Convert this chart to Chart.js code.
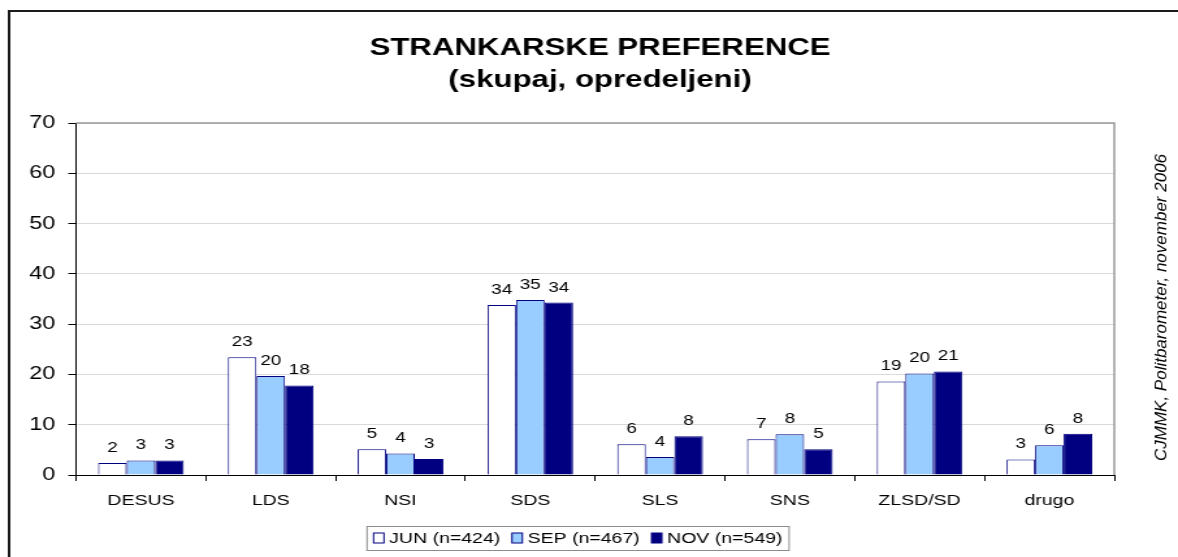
<!DOCTYPE html>
<html>
<head>
<meta charset="utf-8">
<script src="https://cdn.jsdelivr.net/npm/chart.js@4"></script>
<style>
  body { margin: 0; background: #fff; }
</style>
</head>
<body>
<!-- drawn narrow and stretched sideways, like the original pasted chart -->
<canvas id="chart" width="906" height="557" style="display:block;width:1178px;height:557px"></canvas>
<script>
const categories = ['DESUS', 'LDS', 'NSI', 'SDS', 'SLS', 'SNS', 'ZLSD/SD', 'drugo'];
const seriesLabels = ['JUN (n=424)', 'SEP (n=467)', 'NOV (n=549)'];
const junValues = [2.4, 23.4, 5.1, 33.8, 6.1, 7.1, 18.6, 3.1];
const sepValues = [2.9, 19.7, 4.3, 34.8, 3.6, 8.1, 20.2, 5.9];
const novValues = [2.9, 17.8, 3.2, 34.3, 7.7, 5.1, 20.6, 8.2];
const yTicks = [0, 10, 20, 30, 40, 50, 60, 70];

const titleLines = ['STRANKARSKE PREFERENCE', '(skupaj, opredeljeni)'];
const sourceNote = 'CJMMK, Politbarometer, november 2006';

const FONT = '"Liberation Sans", Arial, sans-serif';
const NAVY = '#000080';

// title, outer frame, plot frame, labels, legend and side note
const extras = {
    id: 'extras',
    beforeDatasetsDraw(chart) {
        const { ctx, chartArea: a } = chart;
        ctx.save();
        ctx.strokeStyle = '#9a9a9a';
        ctx.lineWidth = 1.5;
        ctx.beginPath();
        ctx.moveTo(a.left, a.top);
        ctx.lineTo(a.right, a.top);
        ctx.lineTo(a.right, a.bottom);
        ctx.stroke();
        ctx.restore();
    },
    afterDatasetsDraw(chart) {
        const { ctx } = chart;
        ctx.save();
        ctx.font = '14.5px ' + FONT;
        ctx.fillStyle = '#000';
        ctx.textAlign = 'center';
        ctx.textBaseline = 'alphabetic';
        chart.data.datasets.forEach((ds, i) => {
            chart.getDatasetMeta(i).data.forEach((bar, j) => {
                ctx.fillText(String(Math.round(ds.data[j])), bar.x, bar.y - 11);
            });
        });
        ctx.restore();
    },
    afterDraw(chart) {
        const { ctx } = chart;
        ctx.save();

        // outer frame (only left and top edges are in the picture)
        ctx.strokeStyle = '#1a1a1a';
        ctx.lineWidth = 2;
        ctx.beginPath();
        ctx.moveTo(7, 560);
        ctx.lineTo(7, 11);
        ctx.lineTo(910, 11);
        ctx.stroke();

        // title
        ctx.fillStyle = '#000';
        ctx.font = 'bold 24px ' + FONT;
        ctx.textAlign = 'center';
        ctx.textBaseline = 'alphabetic';
        ctx.fillText(titleLines[0], 461.5, 55);
        ctx.fillText(titleLines[1], 461.5, 87);

        // source note on the right
        ctx.save();
        ctx.translate(893.5, 307.5);
        ctx.rotate(-Math.PI / 2);
        ctx.scale(1, 0.74);
        ctx.font = 'italic 17px ' + FONT;
        ctx.textAlign = 'center';
        ctx.textBaseline = 'middle';
        ctx.fillText(sourceNote, 0, 0);
        ctx.restore();

        // legend
        const boxL = 282.3, boxR = 606.9, boxT = 526, boxB = 550;
        const cy = (boxT + boxB) / 2;
        ctx.strokeStyle = '#8c8c8c';
        ctx.lineWidth = 1;
        ctx.strokeRect(boxL, boxT + 0.5, boxR - boxL, boxB - boxT);
        ctx.font = '15px ' + FONT;
        ctx.textAlign = 'left';
        ctx.textBaseline = 'middle';
        let x = boxL + 5;
        chart.data.datasets.forEach(ds => {
            ctx.fillStyle = ds.backgroundColor;
            ctx.fillRect(x, cy - 5, 8, 10);
            ctx.strokeStyle = ds.borderColor;
            ctx.strokeRect(x, cy - 5, 8, 10);
            ctx.fillStyle = '#000';
            ctx.fillText(ds.label, x + 12, cy + 1);
            x += 12 + ctx.measureText(ds.label).width + 9;
        });

        ctx.restore();
    }
};

const canvas = document.getElementById('chart');
new Chart(canvas, {
    type: 'bar',
    data: {
        labels: categories,
        datasets: [{
            label: seriesLabels[0],
            data: junValues,
            backgroundColor: '#ffffff',
            borderColor: NAVY,
            borderWidth: 1
        }, {
            label: seriesLabels[1],
            data: sepValues,
            backgroundColor: '#99ccff',
            borderColor: NAVY,
            borderWidth: 1
        }, {
            label: seriesLabels[2],
            data: novValues,
            backgroundColor: NAVY,
            borderColor: NAVY,
            borderWidth: 1
        }]
    },
    options: {
        responsive: false,
        devicePixelRatio: 1,
        animation: false,
        categoryPercentage: 0.66,
        barPercentage: 1,
        layout: {
            padding: { left: 0, top: 123, right: 49, bottom: 42 }
        },
        plugins: {
            legend: { display: false },
            title: { display: false },
            tooltip: { enabled: false }
        },
        scales: {
            x: {
                grid: {
                    offset: true,
                    drawOnChartArea: false,
                    tickLength: 6,
                    tickColor: '#000'
                },
                border: { color: '#000', width: 1 },
                ticks: {
                    color: '#000',
                    font: { family: FONT, size: 15 },
                    padding: 11
                },
                afterFit(scale) { scale.height = 40; }
            },
            y: {
                min: 0,
                max: 70,
                afterBuildTicks(scale) {
                    scale.ticks = yTicks.map(v => ({ value: v }));
                },
                grid: {
                    color: '#d9d9d9',
                    tickLength: 6,
                    tickColor: '#000'
                },
                border: { color: '#000', width: 1 },
                ticks: {
                    color: '#000',
                    font: { family: FONT, size: 18 },
                    padding: 10
                },
                afterFit(scale) { scale.width = 58.5; }
            }
        }
    },
    plugins: [extras]
});
// keep the sideways stretch even if the library touched the style
canvas.style.width = '1178px';
canvas.style.height = '557px';
</script>
</body>
</html>
